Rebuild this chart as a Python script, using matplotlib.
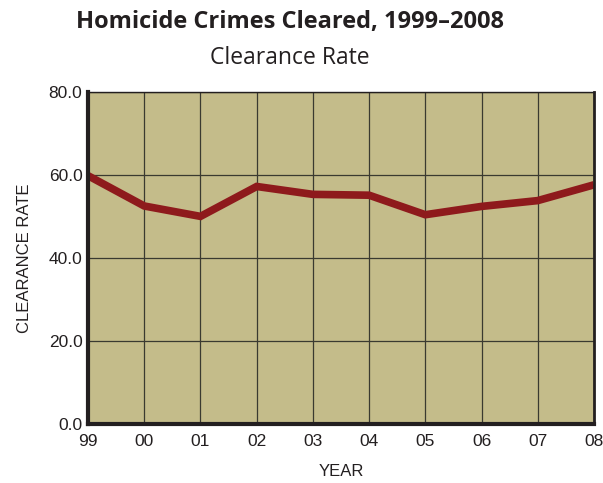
import matplotlib
matplotlib.use("Agg")
import matplotlib.pyplot as plt

plt.rcParams["font.family"] = ["Liberation Sans", "DejaVu Sans"]

years = ["99", "00", "01", "02", "03", "04", "05", "06", "07", "08"]
clearance_rate = [59.8, 52.5, 50.0, 57.2, 55.3, 55.1, 50.4, 52.4, 53.8, 57.6]
y_ticks = [0.0, 20.0, 40.0, 60.0, 80.0]

fig = plt.figure(figsize=(6.03, 4.83), dpi=100)
ax = fig.add_axes([0.146, 0.122, 0.839, 0.688])

ax.set_facecolor("#C4BC8A")
x = list(range(len(years)))
ax.plot(x, clearance_rate, color="#8E1A1C", linewidth=5.5, solid_joinstyle="miter",
        solid_capstyle="butt", zorder=3)

ax.set_xlim(0, len(years) - 1)
ax.set_ylim(0, 80)
ax.set_xticks(x)
ax.set_xticklabels(years)
ax.set_yticks(y_ticks)
ax.set_yticklabels([f"{v:.1f}" for v in y_ticks])
ax.grid(True, color="#3a3a30", linewidth=0.9, zorder=1)
ax.tick_params(length=0, labelsize=12.5, colors="#231f20")
ax.tick_params(axis="x", pad=7)
ax.tick_params(axis="y", pad=4)

ax.spines["left"].set_linewidth(3)
ax.spines["bottom"].set_linewidth(3)
ax.spines["right"].set_linewidth(2)
ax.spines["top"].set_linewidth(1)
for s in ax.spines.values():
    s.set_color("#231f20")
    s.set_zorder(4)

ax.set_ylabel("CLEARANCE RATE", fontsize=12, color="#231f20", labelpad=12)
ax.set_xlabel("YEAR", fontsize=12, color="#231f20", labelpad=11)

fig.text(0.481, 0.955, "Homicide Crimes Cleared, 1999\u20132008", ha="center",
         va="center", fontsize=17, fontweight="bold", family="Open Sans",
         color="#231f20")
fig.text(0.481, 0.880, "Clearance Rate", ha="center", va="center",
         fontsize=16.5, family="Open Sans", color="#231f20")

fig.savefig("out.png", dpi=100)
